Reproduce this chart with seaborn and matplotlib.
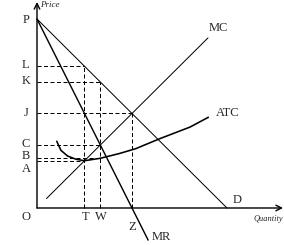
import matplotlib
matplotlib.use("Agg")
import matplotlib.pyplot as plt
import seaborn as sns

# curves (quantity, price)
demand_q = [0, 100]
demand_p = [100, 0]
mr_q = [0, 58.5]
mr_p = [100, -17]
mc_q = [5, 90]
mc_p = [5, 90]
atc_q = [10.4, 12.6, 16.1, 20.5, 25, 33.3, 43.3, 52, 64.7, 80.5, 90.2]
atc_p = [35.3, 30.5, 27.5, 25.8, 25, 26.3, 28.8, 31.4, 36.7, 42.8, 48]

# key quantities and prices
q_T, q_W, q_Z = 25, 33.3, 50
p_L, p_K, p_J, p_C, p_B, p_A = 75, 66.7, 50, 33.3, 26.3, 25

sns.set_style("white")
plt.rcParams['font.family'] = ['Liberation Serif', 'DejaVu Serif']

fig = plt.figure(figsize=(2.84, 2.45), dpi=100)
ax = fig.add_axes([0, 0, 1, 1])
ax.set_xlim(-19.47, 130)
ax.set_ylim(-19.58, 110.05)
ax.axis('off')

px = 0.72  # one pixel in points
sns.lineplot(x=demand_q, y=demand_p, ax=ax, color='black', linewidth=1 * px)
sns.lineplot(x=mr_q, y=mr_p, ax=ax, color='black', linewidth=1.4 * px)
sns.lineplot(x=mc_q, y=mc_p, ax=ax, color='black', linewidth=1 * px)
sns.lineplot(x=atc_q, y=atc_p, ax=ax, color='black', linewidth=1.6 * px)

dash = dict(color='black', linewidth=1 * px, linestyle=(0, (4, 2.5)))
ax.plot([0, q_T], [p_L, p_L], **dash)
ax.plot([0, q_W], [p_K, p_K], **dash)
ax.plot([0, q_Z], [p_J, p_J], **dash)
ax.plot([0, q_W], [p_C, p_C], **dash)
ax.plot([0, q_W], [p_B, p_B], **dash)
ax.plot([0, q_T], [p_A, p_A], **dash)
ax.plot([q_T, q_T], [0, p_L], **dash)
ax.plot([q_W, q_W], [0, p_K], **dash)
ax.plot([q_Z, q_Z], [0, p_J], **dash)

# axes with arrow heads
arrow = dict(arrowstyle='->', color='black', lw=1.4 * px, shrinkA=0, shrinkB=0)
ax.annotate('', xy=(0, 109), xytext=(0, 0), arrowprops=arrow)
ax.annotate('', xy=(129.5, 0), xytext=(0, 0), arrowprops=arrow)

fs = 9
lab = dict(fontsize=fs, ha='center', va='center')
for name, y in [('P', 99.5), ('L', 75.7), ('K', 67.2), ('J', 50.3),
                ('C', 33.9), ('B', 27.4), ('A', 20.8), ('O', -4.8)]:
    ax.text(-5.8, y, name, **lab)
ax.text(25.8, -4.8, 'T', **lab)
ax.text(33.7, -4.8, 'W', **lab)
ax.text(50, -10, 'Z', **lab)
ax.text(65.3, -15.3, 'MR', **lab)
ax.text(105.3, 4.2, 'D', **lab)
ax.text(95.3, 95.2, 'MC', **lab)
ax.text(100.5, 50.3, 'ATC', **lab)
ax.text(1.6, 107.4, 'Price', fontsize=6.5, style='italic', ha='left', va='center')
ax.text(129.3, -5.8, 'Quantity', fontsize=6, style='italic', ha='right', va='center')

fig.savefig('out.png', dpi=100)
